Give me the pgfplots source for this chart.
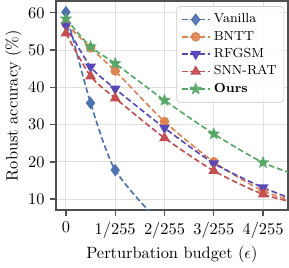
\documentclass[border=0pt]{standalone}
\usepackage{pgfplots}
\pgfplotsset{compat=1.18}
\definecolor{cblue}{HTML}{4C72B0}
\definecolor{corange}{HTML}{DD8452}
\definecolor{cpurple}{RGB}{87,72,185}
\definecolor{cred}{HTML}{C44E52}
\definecolor{cgreen}{HTML}{55A868}
\definecolor{axgray}{HTML}{505050}
\pgfdeclareplotmark{fstar}{%
  \pgfpathmoveto{\pgfqpointpolar{90}{\pgfplotmarksize}}%
  \pgfpathlineto{\pgfqpointpolar{126}{0.42\pgfplotmarksize}}%
  \pgfpathlineto{\pgfqpointpolar{162}{\pgfplotmarksize}}%
  \pgfpathlineto{\pgfqpointpolar{198}{0.42\pgfplotmarksize}}%
  \pgfpathlineto{\pgfqpointpolar{234}{\pgfplotmarksize}}%
  \pgfpathlineto{\pgfqpointpolar{270}{0.42\pgfplotmarksize}}%
  \pgfpathlineto{\pgfqpointpolar{306}{\pgfplotmarksize}}%
  \pgfpathlineto{\pgfqpointpolar{342}{0.42\pgfplotmarksize}}%
  \pgfpathlineto{\pgfqpointpolar{18}{\pgfplotmarksize}}%
  \pgfpathlineto{\pgfqpointpolar{54}{0.42\pgfplotmarksize}}%
  \pgfpathclose
  \pgfusepathqfillstroke
}
\begin{document}
\begin{tikzpicture}
\begin{axis}[
  scale only axis,
  width=141.5pt, height=127.9pt,
  xmin=-0.2, xmax=4.5, ymin=7, ymax=63.2,
  xtick={0,1,2,3,4},
  xticklabels={$0$,$1/255$,$2/255$,$3/255$,$4/255$},
  ytick={10,20,30,40,50,60},
  tick align=outside,
  tick pos=left,
  major tick length=3.5pt,
  every tick/.style={axgray, line width=0.8pt},
  axis line style={axgray, line width=1.1pt},
  grid=major,
  grid style={gray!25, line width=0.7pt},
  xlabel={Perturbation budget ($\epsilon$)},
  ylabel={Robust accuracy (\%)},
  xlabel style={yshift=2pt},
  ylabel style={yshift=-3pt},
  legend style={at={(0.985,0.975)}, anchor=north east, font=\footnotesize,
    draw=gray!40, rounded corners=2pt, fill=white, fill opacity=0.85, text opacity=1,
    row sep=-0.5pt, inner sep=2.5pt},
  legend cell align=left,
  every axis plot/.append style={line width=1pt, dash pattern=on 3.5pt off 1.8pt, smooth, tension=0.4},
]
\addplot[cblue, mark=diamond*, mark size=3pt, mark options={solid}] coordinates {(0,60.2) (0.5,35.8) (1,17.8) (2,3) (3,0) (4,0)};
\addlegendentry{Vanilla}
\addplot[corange, mark=*, mark size=2.4pt, mark options={solid}] coordinates {(0,57.1) (0.5,50.6) (1,44.4) (2,30.8) (3,20.0) (4,12.2) (5,8.0)};
\addlegendentry{BNTT}
\addplot[cpurple, mark=triangle*, mark size=2.8pt, mark options={solid, rotate=180}] coordinates {(0,56.6) (0.5,45.5) (1,39.6) (2,29.1) (3,19.6) (4,13.1) (5,8.0)};
\addlegendentry{RFGSM}
\addplot[cred, mark=triangle*, mark size=2.8pt, mark options={solid}] coordinates {(0,54.5) (0.5,43.0) (1,37.1) (2,26.4) (3,17.6) (4,11.3) (5,8.0)};
\addlegendentry{SNN-RAT}
\addplot[cgreen, mark=fstar, mark size=3.4pt, mark options={solid, fill=cgreen, line width=0.5pt}] coordinates {(0,58.4) (0.5,50.9) (1,46.4) (2,36.5) (3,27.5) (4,19.8) (5,15.0)};
\addlegendentry{\textbf{Ours}}
\end{axis}
\end{tikzpicture}
\end{document}
